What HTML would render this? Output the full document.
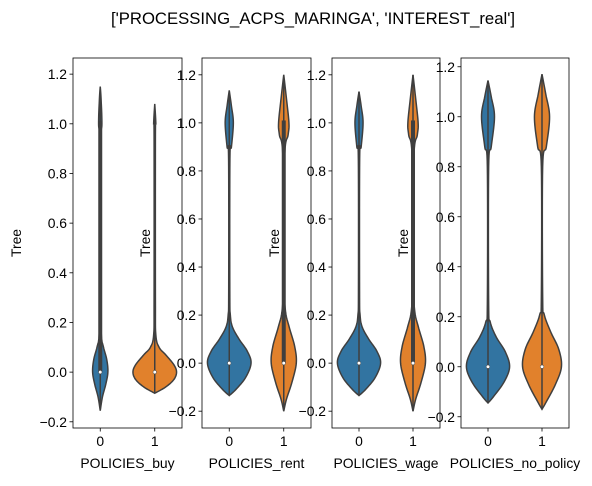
<!DOCTYPE html>
<html><head><meta charset="utf-8"><style>
body{margin:0;background:#fff}
svg text{font-family:"Liberation Sans",sans-serif;fill:#000}
</style></head><body>
<svg id="chart" width="592" height="481" xmlns="http://www.w3.org/2000/svg">
<text x="313" y="24" font-size="16.7" text-anchor="middle">['PROCESSING_ACPS_MARINGA', 'INTEREST_real']</text>
</svg>
<script>
const panelNames = ["POLICIES_buy","POLICIES_rent","POLICIES_wage","POLICIES_no_policy"];
const categories = ["0","1"];
const yTicks = [-0.2,0,0.2,0.4,0.6,0.8,1.0,1.2];
const yTickLabels = ["\u22120.2","0.0","0.2","0.4","0.6","0.8","1.0","1.2"];
// density profiles: [y value, half-width in category units]
const buy0 = [[-0.155,0],[-0.1,0.04],[-0.05,0.1],[0,0.14],[0.05,0.12],[0.1,0.06],[0.15,0.02],[0.3,0.01],[0.9,0.01],[1.0,0.03],[1.1,0.015],[1.15,0]];
const buy1 = [[-0.085,0],[-0.06,0.2],[-0.03,0.35],[0,0.4],[0.03,0.35],[0.07,0.2],[0.1,0.08],[0.15,0.02],[0.3,0.012],[0.95,0.012],[1.0,0.02],[1.08,0]];
const rent0 = [[-0.135,0],[-0.11,0.12],[-0.06,0.3],[0,0.4],[0.05,0.33],[0.1,0.18],[0.15,0.06],[0.2,0.02],[0.3,0.01],[0.85,0.012],[0.9,0.04],[1.0,0.075],[1.07,0.04],[1.135,0]];
const rent1 = [[-0.2,0],[-0.15,0.05],[-0.08,0.15],[0,0.23],[0.07,0.2],[0.15,0.1],[0.22,0.03],[0.35,0.01],[0.85,0.015],[0.95,0.08],[1.0,0.095],[1.1,0.05],[1.2,0]];
const wage0 = [[-0.135,0],[-0.11,0.12],[-0.06,0.3],[0,0.4],[0.05,0.33],[0.1,0.18],[0.15,0.06],[0.2,0.02],[0.3,0.01],[0.85,0.012],[0.9,0.04],[1.0,0.075],[1.07,0.04],[1.13,0]];
const wage1 = [[-0.2,0],[-0.15,0.05],[-0.08,0.15],[0,0.23],[0.07,0.2],[0.15,0.1],[0.22,0.03],[0.35,0.01],[0.85,0.015],[0.95,0.08],[1.0,0.095],[1.1,0.05],[1.2,0]];
const none0 = [[-0.145,0],[-0.12,0.1],[-0.06,0.3],[0,0.4],[0.06,0.32],[0.12,0.15],[0.18,0.04],[0.25,0.012],[0.8,0.012],[0.88,0.06],[1.0,0.12],[1.08,0.06],[1.145,0]];
const none1 = [[-0.17,0],[-0.14,0.08],[-0.07,0.25],[0,0.36],[0.07,0.31],[0.14,0.16],[0.21,0.04],[0.28,0.012],[0.8,0.012],[0.88,0.08],[1.0,0.14],[1.09,0.07],[1.17,0]];
const boxes = [[[0,1.01,0],null],[null,[0,1.01,0]],[null,[0,1.01,0]],[null,null]];
const medians = [[0,0],[0,0],[0,0],[0,0]];
const violins = [[buy0,buy1],[rent0,rent1],[wage0,wage1],[none0,none1]];
const yRanges = [[-0.225,1.265],[-0.27,1.27],[-0.27,1.27],[-0.245,1.235]];

const panels = [{x0:73,x1:182,ylab:16},{x0:202,x1:311,ylab:145},{x0:332,x1:440,ylab:274},{x0:461,x1:569,ylab:403}];
const axTop=58,axBottom=428;
const colors=["#3274a1","#e1812c"];
const svg=document.getElementById('chart');
const NS="http://www.w3.org/2000/svg";
function mk(t,a,p){const e=document.createElementNS(NS,t);for(const k in a)e.setAttribute(k,a[k]);(p||svg).appendChild(e);return e;}

function smooth(pts){
  const out=[];
  for(let i=0;i<pts.length-1;i++){
    const p0=pts[Math.max(i-1,0)],p1=pts[i],p2=pts[i+1],p3=pts[Math.min(i+2,pts.length-1)];
    for(let t=0;t<1;t+=0.1){
      const t2=t*t,t3=t2*t;
      const f=(a,b,c,d)=>0.5*((2*b)+(-a+c)*t+(2*a-5*b+4*c-d)*t2+(-a+3*b-3*c+d)*t3);
      out.push([f(p0[0],p1[0],p2[0],p3[0]),Math.max(0,f(p0[1],p1[1],p2[1],p3[1]))]);
    }
  }
  out.push(pts[pts.length-1]);return out;
}

panels.forEach((P,pi)=>{
  const g=mk('g',{});
  
  
  const [ymin,ymax]=yRanges[pi];
  const ys=v=>axBottom-(v-ymin)/(ymax-ymin)*(axBottom-axTop);
  const xs=c=>P.x0+(c+0.5)/2*(P.x1-P.x0);
  const cw=(P.x1-P.x0)/2;
  violins[pi].forEach((prof,ci)=>{
    const s=smooth(prof);
    const cx=xs(ci);
    let d='M'+s.map(p=>(cx+p[1]*cw).toFixed(2)+','+ys(p[0]).toFixed(2)).join('L');
    d+='L'+s.slice().reverse().map(p=>(cx-p[1]*cw).toFixed(2)+','+ys(p[0]).toFixed(2)).join('L')+'Z';
    const v=mk('path',{d:d,fill:colors[ci],stroke:'#3f3f3f','stroke-width':1.5},g);
    
    
    const lo=prof[0][0],hi=prof[prof.length-1][0];
    const w=mk('line',{x1:cx,x2:cx,y1:ys(lo),y2:ys(hi),stroke:'#3f3f3f','stroke-width':1.5},g);
    
    
    const b=boxes[pi][ci];
    if(b){
      const r=mk('rect',{x:cx-2,y:ys(b[1]),width:4,height:ys(b[0])-ys(b[1]),fill:'#3f3f3f'},g);
      
      
    }
    const m=mk('circle',{cx:cx,cy:ys(medians[pi][ci]),r:1.8,fill:'#fff',stroke:'#3f3f3f','stroke-width':0.5},g);
    
    
    const tk=mk('line',{x1:cx,x2:cx,y1:axBottom,y2:axBottom+3.5,stroke:'#000','stroke-width':0.8},g);
    
    
    const tl=mk('text',{x:cx,y:axBottom+18,'font-size':13.9,'text-anchor':'middle'},g);
    tl.textContent=categories[ci];
    
    
  });
  yTicks.forEach((t,i)=>{
    const y=ys(t);
    const tk=mk('line',{x1:P.x0-3.5,x2:P.x0,y1:y,y2:y,stroke:'#000','stroke-width':0.8},g);
    
    
    const tl=mk('text',{x:P.x0-6,y:y+5,'font-size':13.9,'text-anchor':'end'},g);
    tl.textContent=yTickLabels[i];
    
    
  });
  const fr=mk('rect',{x:P.x0,y:axTop,width:P.x1-P.x0,height:axBottom-axTop,fill:'none',stroke:'#000','stroke-width':0.8},g);
  
  
  const xl=mk('text',{x:(P.x0+P.x1)/2,y:axBottom+40,'font-size':13.9,'text-anchor':'middle'},g);
  xl.textContent=panelNames[pi];
  
  
  const yl=mk('text',{x:0,y:0,'font-size':13.9,'text-anchor':'middle',transform:`translate(${P.ylab+5},243) rotate(-90)`},g);
  yl.textContent='Tree';
  
  
});
</script>
</body></html>
